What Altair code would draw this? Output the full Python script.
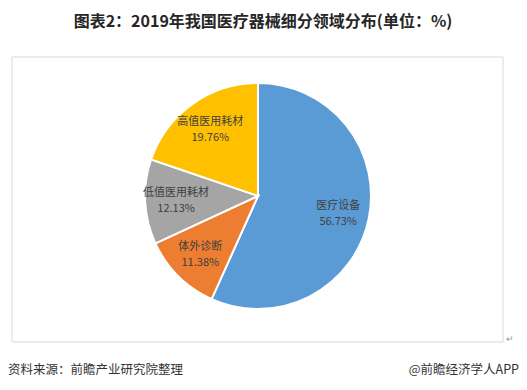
import altair as alt
import pandas as pd

categories = ["医疗设备", "体外诊断", "低值医用耗材", "高值医用耗材"]
values = [56.73, 11.38, 12.13, 19.76]
labels = ["56.73%", "11.38%", "12.13%", "19.76%"]
colors = ["#5B9BD5", "#ED7D31", "#A5A5A5", "#FFC000"]

df = pd.DataFrame({
    "cat": categories,
    "val": values,
    "pct": labels,
    "order": list(range(len(categories))),
})

FONT = "Noto Sans CJK SC"
CX, CY, R = 250, 188, 113

base = alt.Chart(df)

border = alt.Chart(pd.DataFrame({"a": [0]})).mark_rect(
    fill="white", stroke="#d9d9d9", strokeWidth=1
).encode(x=alt.value(4), x2=alt.value(495), y=alt.value(49), y2=alt.value(334))

pie = base.mark_arc(radius=R, stroke="white", strokeWidth=2).encode(
    theta=alt.Theta("val:Q", stack=True),
    order=alt.Order("order:Q"),
    color=alt.Color("cat:N", scale=alt.Scale(domain=categories, range=colors), legend=None),
    x=alt.value(CX), y=alt.value(CY),
)

lab1 = base.mark_text(radius=82, dy=-7, font=FONT, fontSize=11, color="#404040").encode(
    theta=alt.Theta("val:Q", stack=True),
    order=alt.Order("order:Q"),
    text="cat:N",
    x=alt.value(CX), y=alt.value(CY),
)
lab2 = base.mark_text(radius=82, dy=9, font=FONT, fontSize=11, color="#404040").encode(
    theta=alt.Theta("val:Q", stack=True),
    order=alt.Order("order:Q"),
    text="pct:N",
    x=alt.value(CX), y=alt.value(CY),
)

title = alt.Chart(pd.DataFrame({"t": ["图表2：2019年我国医疗器械细分领域分布(单位：%)"]})).mark_text(
    font=FONT, fontSize=16, fontWeight="bold", color="#262626", align="center"
).encode(text="t:N", x=alt.value(255), y=alt.value(14))

src = alt.Chart(pd.DataFrame({"t": ["资料来源：前瞻产业研究院整理"]})).mark_text(
    font=FONT, fontSize=12.5, color="#333333", align="left"
).encode(text="t:N", x=alt.value(0), y=alt.value(362))

app = alt.Chart(pd.DataFrame({"t": ["@前瞻经济学人APP"]})).mark_text(
    font=FONT, fontSize=12.5, color="#333333", align="right"
).encode(text="t:N", x=alt.value(511), y=alt.value(362))

ret = alt.Chart(pd.DataFrame({"t": ["↵"]})).mark_text(
    font=FONT, fontSize=9, color="#999999", align="left"
).encode(text="t:N", x=alt.value(498), y=alt.value(331))

chart = alt.layer(border, pie, lab1, lab2, title, src, app, ret).properties(
    width=511, height=374, autosize=alt.AutoSizeParams(type="none"), padding=0
).configure_view(stroke=None)

chart.save("out.html", embed_options={"renderer": "svg", "actions": False})
